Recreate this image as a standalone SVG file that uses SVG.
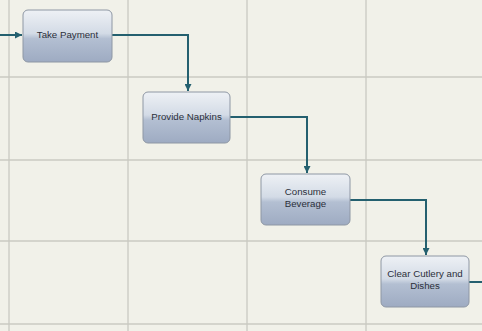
<svg xmlns="http://www.w3.org/2000/svg" width="482" height="331" viewBox="0 0 482 331">
<defs>
<linearGradient id="g" x1="0" y1="0" x2="0" y2="1">
<stop offset="0" stop-color="#eef1f5"/>
<stop offset="0.45" stop-color="#d3dbe6"/>
<stop offset="0.55" stop-color="#b3bfd2"/>
<stop offset="1" stop-color="#9eabc2"/>
</linearGradient>
<marker id="a" viewBox="0 0 8 8" refX="8" refY="4" markerWidth="7" markerHeight="7" markerUnits="userSpaceOnUse" orient="auto">
<path d="M0,0 L8,4 L0,8 Z" fill="#24606f"/>
</marker>
</defs>
<style>
.grid{stroke:#cacac2;stroke-width:1.3;fill:none}
.node rect{fill:url(#g);stroke:#8e97a4;stroke-width:1}
.node text{font-family:"Liberation Sans",Arial,sans-serif;font-size:9.7px;fill:#2b2f3a;text-anchor:middle}
.conn{stroke:#24606f;stroke-width:2;fill:none}
</style>
<rect width="482" height="331" fill="#f1f1e9"/>
<g id="grid">
<path class="grid" d="M9,0V331M128,0V331M247,0V331M366,0V331M0,77H482M0,160H482M0,241H482M0,324H482"/>
</g>
<g id="connectors">
<path class="conn" d="M0,35H22" marker-end="url(#a)"/>
<path class="conn" d="M112,35H188V91" marker-end="url(#a)"/>
<path class="conn" d="M230,117H307V173" marker-end="url(#a)"/>
<path class="conn" d="M350,200H426V255" marker-end="url(#a)"/>
<path class="conn" d="M469,282H482"/>
</g>
<g id="take-payment" class="node">
<rect x="23" y="10" width="89" height="52" rx="5"/>
<text x="67.5" y="38">Take Payment</text>
</g>
<g id="provide-napkins" class="node">
<rect x="143" y="92" width="87" height="51" rx="5"/>
<text x="186.5" y="120">Provide Napkins</text>
</g>
<g id="consume-beverage" class="node">
<rect x="261" y="174" width="89" height="51" rx="5"/>
<text x="305.5" y="195">Consume</text>
<text x="305.5" y="207">Beverage</text>
</g>
<g id="clear-cutlery" class="node">
<rect x="381" y="256" width="88" height="51" rx="5"/>
<text x="425" y="277">Clear Cutlery and</text>
<text x="425" y="289">Dishes</text>
</g>
</svg>
